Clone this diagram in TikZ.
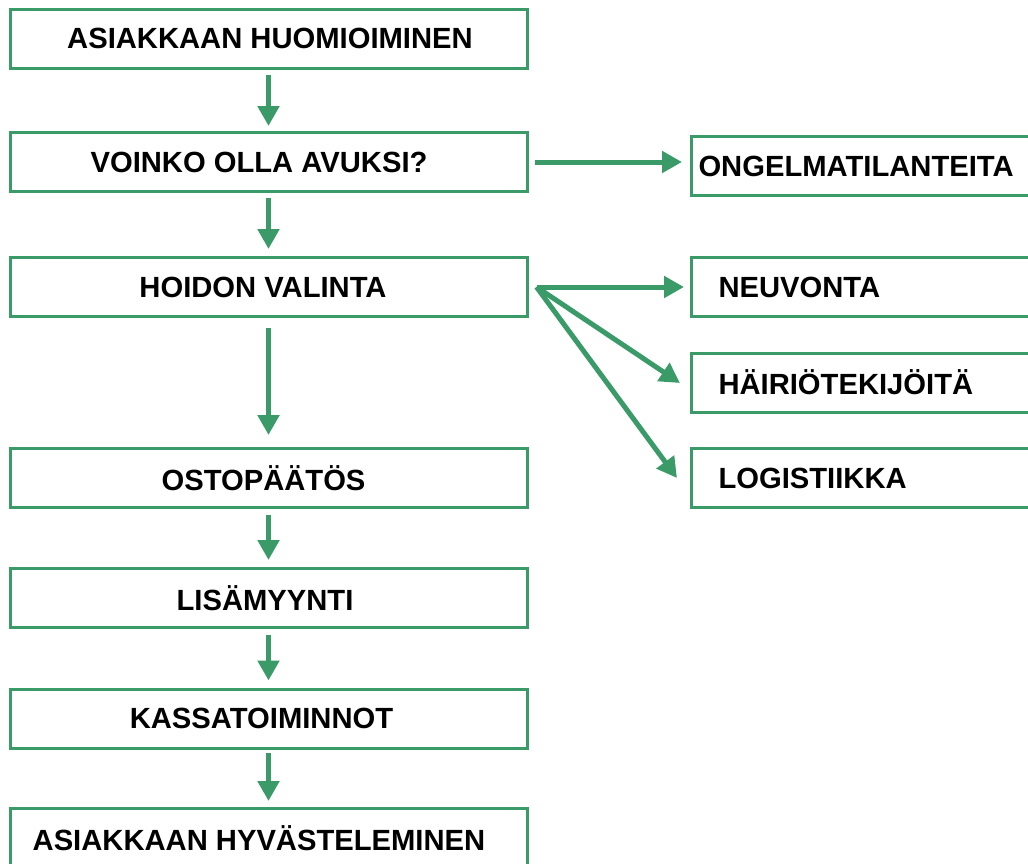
\documentclass[tikz,border=0pt]{standalone}
\usepackage{fontspec}
\setmainfont{Liberation Sans}
\usetikzlibrary{arrows.meta,calc}
\definecolor{flowgreen}{RGB}{58,155,105}
\begin{document}
\begin{tikzpicture}[x=0.5pt,y=-0.5pt,
  font=\fontsize{14.6}{17}\selectfont\bfseries,
  stepbox/.style={draw=flowgreen,line width=1.5pt,inner sep=0pt,
    minimum width=258.5pt,minimum height=29.5pt},
  sidebox/.style={draw=flowgreen,line width=1.5pt,inner ysep=0pt,
    inner xsep=#1,text width=180pt-2*#1,align=left,
    minimum height=29.5pt,anchor=west},
  arr/.style={draw=flowgreen,line width=2.5pt,
    -{Triangle[length=10pt,width=10.5pt]}}]
\clip (0,0) rectangle (1028,863);
\fill[white] (0,0) rectangle (1028,863);

% main sequence: box, with its caption set slightly off centre
\node[stepbox,label={[xshift=0.75pt]center:ASIAKKAAN HUOMIOIMINEN}] (s1) at (268.5,38.5) {};
\node[stepbox,label={[xshift=-4.75pt]center:VOINKO OLLA AVUKSI?}] (s2) at (268.5,162) {};
\node[stepbox,label={[xshift=-2.75pt]center:HOIDON VALINTA}] (s3) at (268.5,287) {};
\node[stepbox,label={[xshift=-2.5pt]center:OSTOPÄÄTÖS}] (s4) at (268.5,478) {};
\node[stepbox,label={[xshift=-1.75pt]center:LISÄMYYNTI}] (s5) at (268.5,598) {};
\node[stepbox,label={[xshift=-3.5pt]center:KASSATOIMINNOT}] (s6) at (268.5,718.5) {};
\node[stepbox,label={[xshift=-4.75pt]center:ASIAKKAAN HYVÄSTELEMINEN}] (s7) at (268.5,838) {};

% side branches
\node[sidebox=3.5pt]  (ong) at (690,166)   {ONGELMATILANTEITA};
\node[sidebox=13.5pt] (neu) at (690,287)   {NEUVONTA};
\node[sidebox=13.5pt] (hai) at (690,382.5) {HÄIRIÖTEKIJÖITÄ};
\node[sidebox=13.5pt] (log) at (690,478)   {LOGISTIIKKA};

% vertical flow
\draw[arr,shorten <=2.5pt,shorten >=2.5pt] (s1.south) -- (s2.north);
\draw[arr,shorten <=2.5pt,shorten >=3.5pt] (s2.south) -- (s3.north);
\draw[arr,shorten <=5pt,shorten >=6pt] (s3.south) -- (s4.north);
\draw[arr,shorten <=3pt,shorten >=3.5pt] (s4.south) -- (s5.north);
\draw[arr,shorten <=3pt,shorten >=3.5pt] (s5.south) -- (s6.north);
\draw[arr,shorten <=1.5pt,shorten >=3pt] (s6.south) -- (s7.north);

% branches to the right
\coordinate (askfrom) at ($(s2.east)+(6,0)$);
\draw[arr,shorten >=4pt] (askfrom) -- (askfrom -| ong.west);
\coordinate (fork) at ($(s3.east)+(8,0)$);
\coordinate (haiend) at (680,383);
\coordinate (logend) at (677,478);
\draw[arr,shorten >=3pt] (fork) -- (neu.west);
\draw[arr] (fork) -- (haiend);
\draw[arr] (fork) -- (logend);
\end{tikzpicture}
\end{document}
